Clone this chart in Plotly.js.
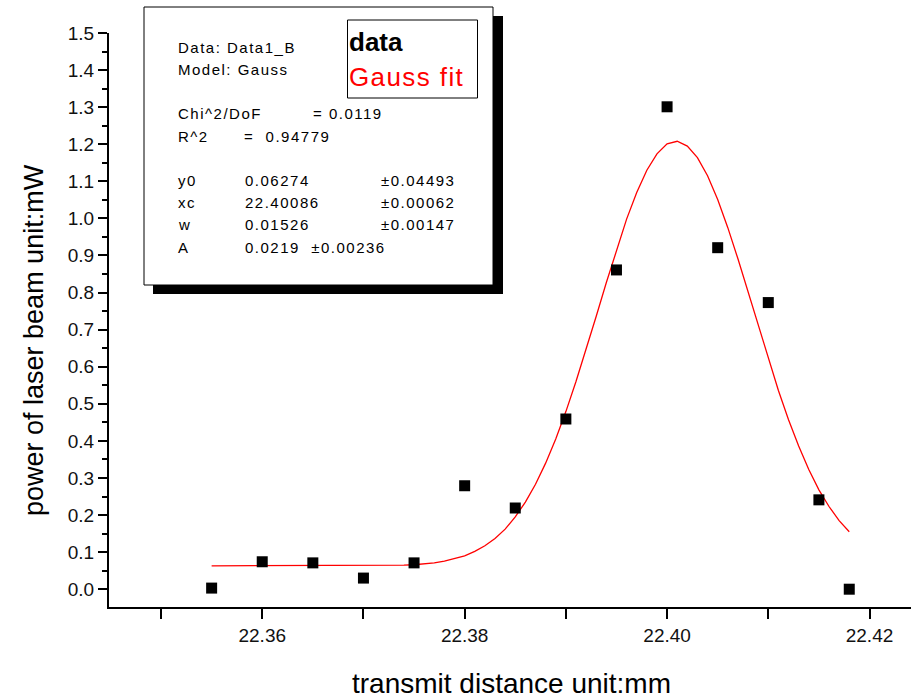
<!DOCTYPE html>
<html>
<head>
<meta charset="utf-8">
<script src="https://cdn.plot.ly/plotly-3.0.1.min.js"></script>
<style>
  html, body { margin: 0; padding: 0; background: #fff; }
  #chart { width: 911px; height: 700px; }
</style>
</head>
<body>
<div id="chart"></div>
<script>
// Measured laser power versus stage position
const distance = [22.355, 22.360, 22.365, 22.370, 22.375, 22.380, 22.385,
                  22.390, 22.395, 22.400, 22.405, 22.410, 22.415, 22.418];
const power    = [0.003, 0.074, 0.071, 0.030, 0.071, 0.279, 0.219,
                  0.459, 0.861, 1.301, 0.921, 0.773, 0.241, 0.000];

// Gauss fit curve
const fitDistance = [22.355, 22.365, 22.370, 22.372, 22.374,
  22.375, 22.376, 22.377, 22.378, 22.379, 22.380, 22.381, 22.382, 22.383, 22.384,
  22.385, 22.386, 22.387, 22.388, 22.389, 22.390, 22.391, 22.392, 22.393, 22.394,
  22.395, 22.396, 22.397, 22.398, 22.399, 22.400, 22.401, 22.402, 22.403, 22.404,
  22.405, 22.406, 22.407, 22.408, 22.409, 22.410, 22.411, 22.412, 22.413, 22.414,
  22.415, 22.416, 22.417, 22.418];
const fitPower = [0.063, 0.063, 0.063, 0.064, 0.065,
  0.066, 0.068, 0.071, 0.076, 0.082, 0.090, 0.102, 0.117, 0.137, 0.162,
  0.195, 0.235, 0.283, 0.340, 0.405, 0.479, 0.560, 0.646, 0.736, 0.827,
  0.915, 0.998, 1.070, 1.130, 1.174, 1.201, 1.208, 1.195, 1.164, 1.115,
  1.051, 0.975, 0.891, 0.802, 0.711, 0.622, 0.536, 0.457, 0.386, 0.323,
  0.268, 0.223, 0.185, 0.155];

// Fit report text
const headerLines = ["Data: Data1_B", "Model: Gauss"];
const chiLabel = "Chi^2/DoF", chiValue = "= 0.0119";
const r2Label = "R^2", r2Value = "=  0.94779";
const paramNames  = ["y0", "xc", "w", "A"];
const paramValues = ["0.06274", "22.40086", "0.01526", "0.0219  \u00b10.00236"];
const paramErrors = ["\u00b10.04493", "\u00b10.00062", "\u00b10.00147", ""];
const legendLabels = ["data", "Gauss fit"];

// Page geometry (pixels)
const W = 911, H = 700;
const M = { l: 109, r: 0, t: 33, b: 93 };
const PW = W - M.l - M.r, PH = H - M.t - M.b;
const px = x => (x - M.l) / PW;
const py = y => (H - M.b - y) / PH;

const FONT = "Liberation Sans, Arial, sans-serif";
const spaced = (s, sp) => '<span style="letter-spacing:' + sp + 'px">' + s + '</span>';

function label(text, x, y, size, extra) {
  return Object.assign({
    text: text, xref: "paper", yref: "paper", x: px(x), y: py(y),
    xanchor: "left", yanchor: "middle", showarrow: false,
    font: { family: FONT, size: size, color: "#000" }
  }, extra || {});
}

const TS = 15, SP = 1.5;
const annotations = [];
headerLines.forEach((t, i) => annotations.push(label(spaced(t, SP), 176, [47, 69][i], TS)));
annotations.push(label(spaced(chiLabel, SP), 176, 114, TS));
annotations.push(label(spaced(chiValue, SP), 311, 114, TS));
annotations.push(label(spaced(r2Label, SP), 176, 136, TS));
annotations.push(label(spaced(r2Value, SP), 242, 136, TS));
const rowY = [180, 202, 224, 247];
paramNames.forEach((n, i) => {
  annotations.push(label(spaced(n, SP), 176, rowY[i], TS));
  annotations.push(label(spaced(paramValues[i], SP), 243, rowY[i], TS));
  if (paramErrors[i]) annotations.push(label(spaced(paramErrors[i], SP), 379, rowY[i], TS));
});
annotations.push(label("<b>" + legendLabels[0] + "</b>", 347, 42, 26));
annotations.push(label(spaced(legendLabels[1], 1.4), 347, 77, 26, { font: { family: FONT, size: 26, color: "#ff0000" } }));

// Axis titles
annotations.push({
  text: "transmit distance unit:mm", xref: "paper", yref: "paper",
  x: px(512), y: py(683), xanchor: "center", yanchor: "middle", showarrow: false,
  font: { family: FONT, size: 28, color: "#000" }
});
annotations.push({
  text: "power of laser beam unit:mW", xref: "paper", yref: "paper",
  x: px(34), y: py(340), xanchor: "center", yanchor: "middle", showarrow: false,
  textangle: -90, font: { family: FONT, size: 27, color: "#000" }
});

const shapes = [
  // report box shadow, box, and inner legend box
  { type: "rect", xref: "paper", yref: "paper", layer: "above",
    x0: px(153), x1: px(503), y0: py(16), y1: py(294),
    fillcolor: "#000", line: { width: 0 } },
  { type: "rect", xref: "paper", yref: "paper", layer: "above",
    x0: px(144), x1: px(493), y0: py(7), y1: py(285),
    fillcolor: "#fff", line: { color: "#000", width: 1 } },
  { type: "rect", xref: "paper", yref: "paper", layer: "above",
    x0: px(347.5), x1: px(477.5), y0: py(20), y1: py(98),
    fillcolor: "#fff", line: { color: "#000", width: 1 } }
];

const traces = [
  { x: fitDistance, y: fitPower, type: "scatter", mode: "lines",
    line: { color: "#ff0000", width: 1.3 }, hoverinfo: "skip" },
  { x: distance, y: power, type: "scatter", mode: "markers",
    marker: { symbol: "square", size: 11, color: "#000", line: { width: 0 } },
    cliponaxis: false }
];

const layout = {
  width: W, height: H, margin: M,
  paper_bgcolor: "#fff", plot_bgcolor: "#fff",
  showlegend: false,
  xaxis: {
    range: [22.34486, 22.4241], showgrid: false, zeroline: false,
    showline: true, linecolor: "#000", linewidth: 2,
    ticks: "outside", ticklen: 10, tickwidth: 2, tickcolor: "#000",
    tick0: 22.36, dtick: 0.02, tickformat: ".2f",
    minor: { dtick: 0.01, ticks: "outside", ticklen: 10, tickwidth: 2, tickcolor: "#000", showgrid: false },
    tickfont: { family: FONT, size: 19, color: "#111" }
  },
  yaxis: {
    range: [-0.048, 1.5], showgrid: false, zeroline: false,
    showline: true, linecolor: "#000", linewidth: 2,
    ticks: "outside", ticklen: 9, tickwidth: 2, tickcolor: "#000",
    tick0: 0, dtick: 0.1, tickformat: ".1f",
    minor: { dtick: 0.05, ticks: "outside", ticklen: 5, tickwidth: 2, tickcolor: "#000", showgrid: false },
    tickfont: { family: FONT, size: 19, color: "#111" }
  },
  shapes: shapes,
  annotations: annotations
};

Plotly.newPlot("chart", traces, layout, { staticPlot: true, displayModeBar: false });
</script>
</body>
</html>
